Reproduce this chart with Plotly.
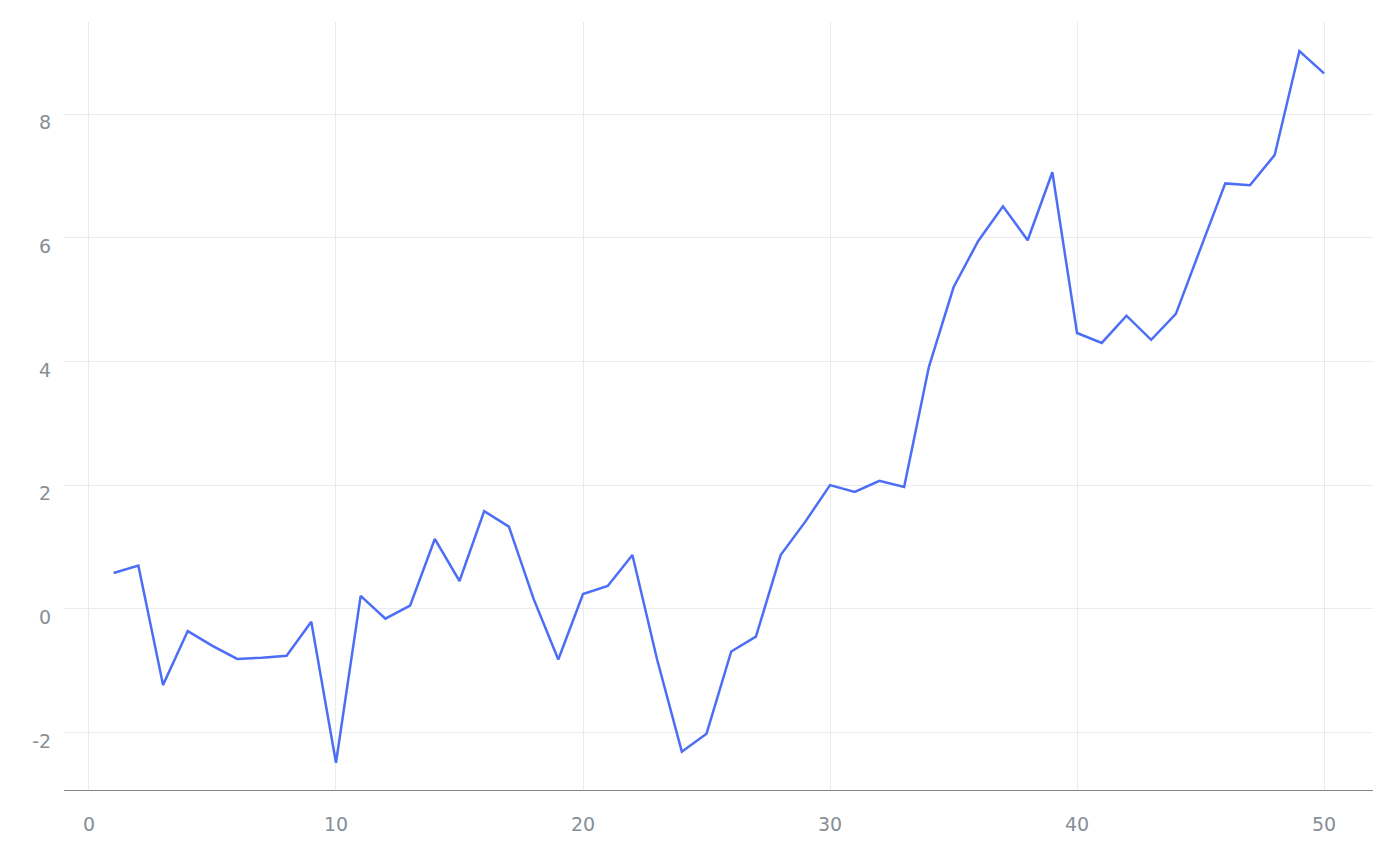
import plotly.graph_objects as go

x_vals = list(range(1, 51))
y_vals = [0.58, 0.70, -1.23, -0.36, -0.60, -0.81, -0.79, -0.76, -0.21, -2.49,
          0.21, -0.16, 0.05, 1.13, 0.45, 1.58, 1.33, 0.16, -0.82, 0.24,
          0.37, 0.87, -0.82, -2.31, -2.02, -0.69, -0.45, 0.87, 1.41, 2.00,
          1.89, 2.07, 1.97, 3.91, 5.20, 5.95, 6.51, 5.96, 7.06, 4.46,
          4.30, 4.74, 4.35, 4.77, 5.83, 6.88, 6.85, 7.34, 9.02, 8.66]
x_ticks = [0, 10, 20, 30, 40, 50]
y_ticks = [-2, 0, 2, 4, 6, 8]

y_range = [-2.93, 9.49]
label_shift = 0.14  # y tick labels sit slightly below their gridlines

fig = go.Figure()
fig.add_trace(go.Scatter(x=x_vals, y=y_vals, mode="lines",
                         line=dict(color="#4C6EF5", width=2.5), hoverinfo="skip"))
# invisible trace so the label axis is drawn
fig.add_trace(go.Scatter(x=[None], y=[None], yaxis="y2", mode="lines",
                         hoverinfo="skip", showlegend=False))
fig.update_layout(
    width=1384, height=850,
    margin=dict(l=56, r=19, t=14, b=68),
    paper_bgcolor="white", plot_bgcolor="white",
    showlegend=False,
    font=dict(family="DejaVu Sans", size=19, color="#868E96"),
    xaxis=dict(range=[-1.01, 51.98], tickvals=x_ticks, ticktext=[str(v) for v in x_ticks],
               showgrid=True, gridcolor="#EAEBEE", gridwidth=1, zeroline=False,
               showline=True, linecolor="#888888", linewidth=1,
               ticks="outside", ticklen=17, tickcolor="rgba(0,0,0,0)"),
    yaxis=dict(range=y_range, tickvals=y_ticks, showticklabels=False,
               showgrid=True, gridcolor="#EAEBEE", gridwidth=1, zeroline=False,
               showline=False, ticks=""),
    yaxis2=dict(range=[y_range[0] + label_shift, y_range[1] + label_shift],
                overlaying="y", side="left", tickvals=y_ticks,
                ticktext=[str(v) for v in y_ticks],
                showgrid=False, zeroline=False, showline=False,
                ticks="outside", ticklen=8, tickcolor="rgba(0,0,0,0)"),
)
fig.write_html("out.html")
